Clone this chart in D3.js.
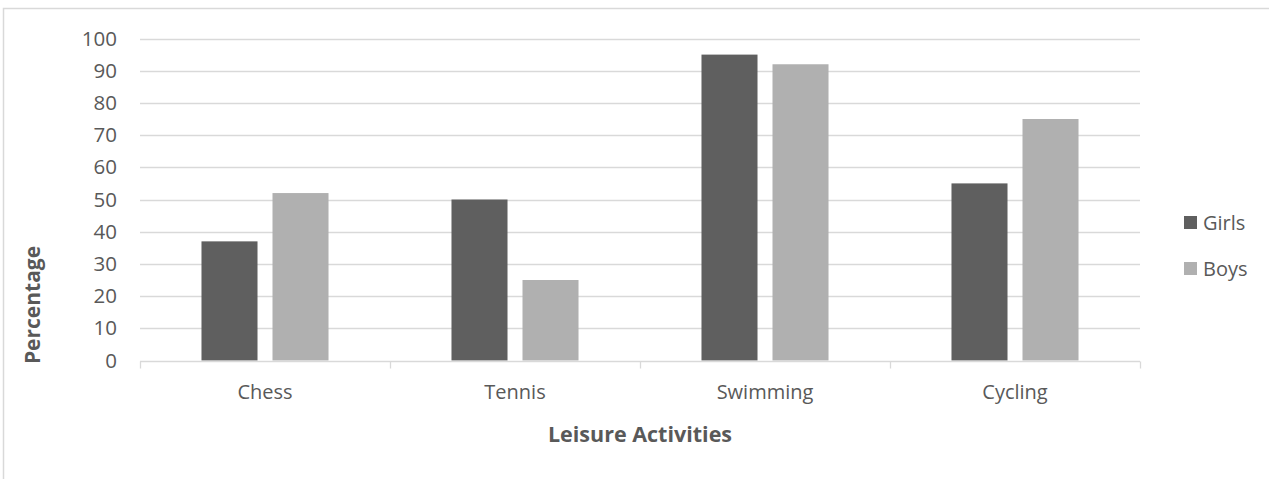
<!DOCTYPE html>
<html>
<head>
  <meta charset="utf-8">
  <title>Leisure Activities</title>
  <script src="https://cdn.jsdelivr.net/npm/d3@7"></script>
  <style>
    body { margin: 0; background: #fff; }
    text { font-family: "Open Sans", "Liberation Sans", sans-serif; fill: #595959; }
  </style>
</head>
<body>
<div id="chart"></div>

<script>
var categories = ['Chess', 'Tennis', 'Swimming', 'Cycling'];
var seriesNames = ['Girls', 'Boys'];
var girls = [37, 50, 95, 55];
var boys = [52, 25, 92, 75];
var yTicks = [0, 10, 20, 30, 40, 50, 60, 70, 80, 90, 100];
var colors = ['#5f5f5f', '#b0b0b0'];

var w = 1269, h = 479;
var margin = {left: 140, right: 129, top: 38.5, bottom: 118.5};

var svg = d3.select('#chart').append('svg')
  .attr('width', w)
  .attr('height', h);

// chart frame
svg.append('path')
  .attr('d', 'M3.5,' + h + 'V8.5H' + w)
  .attr('fill', 'none')
  .attr('stroke', '#d9d9d9')
  .attr('stroke-width', 1.5);

var x = d3.scaleBand()
  .domain(categories)
  .range([margin.left, w - margin.right]);

var y = d3.scaleLinear()
  .domain([0, 100])
  .range([h - margin.bottom, margin.top]);

// gridlines
svg.append('g')
  .selectAll('line')
  .data(yTicks.slice(1))
  .enter()
  .append('line')
  .attr('x1', margin.left)
  .attr('x2', w - margin.right)
  .attr('y1', function(d) { return Math.round(y(d)) + 0.5; })
  .attr('y2', function(d) { return Math.round(y(d)) + 0.5; })
  .attr('stroke', '#d9d9d9')
  .attr('stroke-width', 1.3);

// y tick labels
svg.append('g')
  .selectAll('text')
  .data(yTicks)
  .enter()
  .append('text')
  .attr('x', 117)
  .attr('y', function(d) { return y(d); })
  .attr('dy', '0.35em')
  .attr('text-anchor', 'end')
  .style('font-size', '20.5px')
  .text(function(d) { return d; });

// bars
var inner = d3.scaleBand()
  .domain(seriesNames)
  .range([0, x.bandwidth()])
  .paddingInner(0.211)
  .paddingOuter(0.866);

var rows = categories.map(function(c, i) {
  return {cat: c, values: [girls[i], boys[i]]};
});

var groups = svg.append('g')
  .selectAll('g')
  .data(rows)
  .enter()
  .append('g')
  .attr('transform', function(d) { return 'translate(' + x(d.cat) + ',0)'; });

groups.selectAll('rect')
  .data(function(d) {
    return d.values.map(function(v, j) { return {name: seriesNames[j], value: v, j: j}; });
  })
  .enter()
  .append('rect')
  .attr('x', function(d) { return inner(d.name); })
  .attr('width', inner.bandwidth())
  .attr('y', function(d) { return y(d.value); })
  .attr('height', function(d) { return y(0) - y(d.value); })
  .attr('fill', function(d) { return colors[d.j]; });

// x axis
var xAxis = svg.append('g')
  .attr('transform', 'translate(0,' + (Math.round(y(0)) + 0.5) + ')');
xAxis.append('line')
  .attr('x1', margin.left)
  .attr('x2', w - margin.right)
  .attr('stroke', '#d9d9d9')
  .attr('stroke-width', 1.3);
var bounds = categories.map(function(c) { return x(c); }).concat([w - margin.right]);
xAxis.selectAll('.tick')
  .data(bounds)
  .enter()
  .append('line')
  .attr('x1', function(d) { return Math.round(d) + 0.5; })
  .attr('x2', function(d) { return Math.round(d) + 0.5; })
  .attr('y1', 0)
  .attr('y2', 7)
  .attr('stroke', '#d9d9d9')
  .attr('stroke-width', 1.3);

svg.append('g')
  .selectAll('text')
  .data(categories)
  .enter()
  .append('text')
  .attr('x', function(d) { return x(d) + x.bandwidth() / 2; })
  .attr('y', 399)
  .attr('text-anchor', 'middle')
  .style('font-size', '20px')
  .text(function(d) { return d; });

// axis titles
svg.append('text')
  .attr('x', 640)
  .attr('y', 442)
  .attr('text-anchor', 'middle')
  .style('font-size', '21.5px')
  .style('font-weight', 'bold')
  .text('Leisure Activities');

svg.append('text')
  .attr('transform', 'translate(40,305) rotate(-90)')
  .attr('text-anchor', 'middle')
  .style('font-size', '21px')
  .style('font-weight', 'bold')
  .text('Percentage');

// legend
var legend = svg.append('g')
  .selectAll('g')
  .data(seriesNames)
  .enter()
  .append('g')
  .attr('transform', function(d, i) { return 'translate(1184,' + (223 + i * 46) + ')'; });
legend.append('rect')
  .attr('x', 0)
  .attr('y', -7)
  .attr('width', 13)
  .attr('height', 13)
  .attr('fill', function(d, i) { return colors[i]; });
legend.append('text')
  .attr('x', 19)
  .attr('y', 0)
  .attr('dy', '0.35em')
  .style('font-size', '20px')
  .text(function(d) { return d; });
</script>
</body>
</html>
